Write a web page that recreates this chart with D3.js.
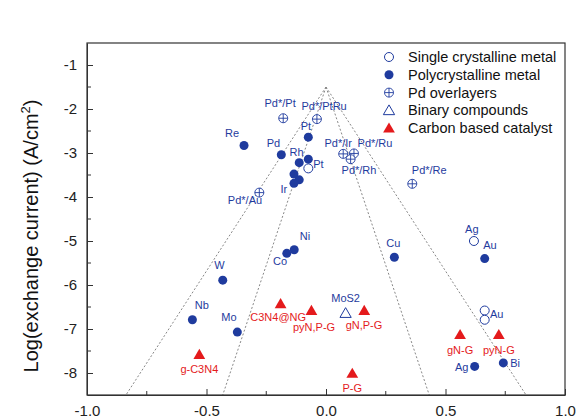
<!DOCTYPE html>
<html>
<head>
<meta charset="utf-8">
<script src="https://cdn.jsdelivr.net/npm/d3@7"></script>
<style>
  body { margin: 0; background: #fff; }
  text { font-family: "Liberation Sans", Arial, sans-serif; }
</style>
</head>
<body>
<script>
const w = 584;
const h = 420;
const margin = {top: 43, right: 19, bottom: 25, left: 87};

// data (x = ΔG-like descriptor, y = log exchange current)
const singleCrystal = [
  {x: -0.074, y: -3.35}, {x: 0.619, y: -5.00},
  {x: 0.664, y: -6.58}, {x: 0.664, y: -6.79}
];
const polyCrystal = [
  {x: -0.343, y: -2.83}, {x: -0.187, y: -3.04}, {x: -0.074, y: -2.64},
  {x: -0.112, y: -3.22}, {x: -0.074, y: -3.14}, {x: -0.134, y: -3.48},
  {x: -0.112, y: -3.61}, {x: -0.134, y: -3.69}, {x: -0.133, y: -5.20},
  {x: -0.164, y: -5.28}, {x: -0.432, y: -5.89}, {x: -0.559, y: -6.79},
  {x: -0.371, y: -7.07}, {x: 0.286, y: -5.37}, {x: 0.664, y: -5.40},
  {x: 0.622, y: -7.85}, {x: 0.742, y: -7.77}
];
const pdOverlayers = [
  {x: -0.179, y: -2.21}, {x: -0.038, y: -2.23}, {x: -0.279, y: -3.90},
  {x: 0.072, y: -3.02}, {x: 0.117, y: -3.01}, {x: 0.103, y: -3.14},
  {x: 0.361, y: -3.70}
];
const binaryCompounds = [{x: 0.082, y: -6.64}];
const carbonCatalysts = [
  {x: -0.190, y: -6.43}, {x: -0.061, y: -6.58}, {x: 0.160, y: -6.58},
  {x: -0.530, y: -7.58}, {x: 0.110, y: -8.01}, {x: 0.561, y: -7.13},
  {x: 0.723, y: -7.13}
];

const blueLabels = [
  ["Pd*/Pt", -0.192, -1.86], ["Pd*/PtRu", -0.008, -1.93], ["Re", -0.393, -2.55],
  ["Pd", -0.220, -2.78], ["Pt", -0.084, -2.38], ["Rh", -0.123, -2.97],
  ["Pt", -0.032, -3.25], ["Ir", -0.176, -3.82], ["Pd*/Au", -0.339, -4.08],
  ["Pd*/Ir", 0.051, -2.78], ["Pd*/Ru", 0.205, -2.77], ["Pd*/Rh", 0.138, -3.40],
  ["Pd*/Re", 0.432, -3.40], ["Ni", -0.088, -4.90], ["Co", -0.192, -5.45],
  ["W", -0.446, -5.54], ["Nb", -0.520, -6.45], ["Mo", -0.406, -6.73],
  ["Cu", 0.282, -5.05], ["MoS2", 0.082, -6.31], ["Ag", 0.610, -4.72],
  ["Au", 0.686, -5.10], ["Au", 0.714, -6.67], ["Ag", 0.568, -7.86],
  ["Bi", 0.791, -7.77]
];
const redLabels = [
  ["C3N4@NG", -0.200, -6.73], ["pyN,P-G", -0.050, -6.95], ["gN,P-G", 0.159, -6.92],
  ["g-C3N4", -0.530, -7.91], ["P-G", 0.110, -8.35], ["gN-G", 0.561, -7.48],
  ["pyN-G", 0.723, -7.48]
];

// volcano guide lines: apex and the x where each line meets y = -8.5
const apex = {x: 0, y: -1.5};
const guideEnds = [-0.837, -0.432, 0.432, 0.837];

const xTicks = [-1.0, -0.5, 0.0, 0.5, 1.0];
const xMinor = [-0.75, -0.25, 0.25, 0.75];
const yTicks = [-1, -2, -3, -4, -5, -6, -7, -8];
const yMinor = [-1.5, -2.5, -3.5, -4.5, -5.5, -6.5, -7.5];

const legendNames = ["Single crystalline metal", "Polycrystalline metal", "Pd overlayers",
                     "Binary compounds", "Carbon based catalyst"];

const blue = "#1f3b9e";
const red = "#e41a1c";

const xScale = d3.scaleLinear().domain([-1, 1]).range([margin.left, w - margin.right]);
const yScale = d3.scaleLinear().domain([-8.5, -0.5]).range([h - margin.bottom, margin.top]);

const svg = d3.select("body").append("svg")
  .attr("width", w)
  .attr("height", h);

svg.append("defs").append("clipPath").attr("id", "plot")
  .append("rect")
  .attr("x", margin.left).attr("y", margin.top)
  .attr("width", w - margin.left - margin.right)
  .attr("height", h - margin.top - margin.bottom);

// guide lines
svg.append("g").attr("clip-path", "url(#plot)")
  .selectAll("line")
  .data(guideEnds)
  .enter()
  .append("line")
  .attr("x1", xScale(apex.x)).attr("y1", yScale(apex.y))
  .attr("x2", d => xScale(d)).attr("y2", yScale(-8.5))
  .attr("stroke", "#888")
  .attr("stroke-width", 1)
  .attr("stroke-dasharray", "2,2");

// axes
const xAxis = d3.axisBottom(xScale).tickValues(xTicks).tickSizeInner(-6).tickSizeOuter(0)
  .tickPadding(10).tickFormat(d3.format(".1f"));
const yAxis = d3.axisLeft(yScale).tickValues(yTicks).tickSizeInner(-6).tickSizeOuter(0)
  .tickPadding(10).tickFormat(d3.format("d"));

const gx = svg.append("g")
  .attr("transform", "translate(0," + (h - margin.bottom) + ")")
  .call(xAxis);
gx.append("g").selectAll("line").data(xMinor).enter().append("line")
  .attr("x1", d => xScale(d)).attr("x2", d => xScale(d))
  .attr("y1", 0).attr("y2", -4).attr("stroke", "#333");

const gy = svg.append("g")
  .attr("transform", "translate(" + margin.left + ",0)")
  .call(yAxis);
gy.append("g").selectAll("line").data(yMinor).enter().append("line")
  .attr("y1", d => yScale(d)).attr("y2", d => yScale(d))
  .attr("x1", 0).attr("x2", 4).attr("stroke", "#333");

svg.selectAll(".tick text")
  .attr("font-size", 15)
  .attr("fill", "#222")
  .text(function() { return d3.select(this).text().replace("−", "-"); });
svg.selectAll(".tick line, .domain").attr("stroke", "#333");

// frame
svg.append("rect")
  .attr("x", margin.left).attr("y", margin.top)
  .attr("width", w - margin.left - margin.right)
  .attr("height", h - margin.top - margin.bottom)
  .attr("fill", "none")
  .attr("stroke", "#333")
  .attr("stroke-width", 1.2);

// y label
const yLabel = svg.append("text")
  .attr("transform", "translate(38," + 236 + ") rotate(-90)")
  .attr("text-anchor", "middle")
  .attr("font-size", 20)
  .attr("fill", "#111");
yLabel.append("tspan").text("Log(exchange current) (A/cm");
yLabel.append("tspan").attr("font-size", 13).attr("dy", -8).text("2");
yLabel.append("tspan").attr("dy", 8).text(")");

// marker helpers
const tri = d3.symbol().type(d3.symbolTriangle);

function openCircle(g, x, y) {
  g.append("circle").attr("cx", x).attr("cy", y).attr("r", 4.5)
    .attr("fill", "#fff").attr("stroke", blue).attr("stroke-width", 1);
}
function filledCircle(g, x, y) {
  g.append("circle").attr("cx", x).attr("cy", y).attr("r", 4.5).attr("fill", blue);
}
function crossCircle(g, x, y) {
  g.append("circle").attr("cx", x).attr("cy", y).attr("r", 4.5)
    .attr("fill", "#fff").attr("stroke", blue).attr("stroke-width", 0.9);
  g.append("path")
    .attr("d", "M" + (x - 4.5) + "," + y + "H" + (x + 4.5) + "M" + x + "," + (y - 4.5) + "V" + (y + 4.5))
    .attr("stroke", blue).attr("stroke-width", 0.9);
}
function openTriangle(g, x, y) {
  g.append("path").attr("d", tri.size(55)()).attr("transform", "translate(" + x + "," + (y + 1) + ")")
    .attr("fill", "#fff").attr("stroke", blue).attr("stroke-width", 1);
}
function redTriangle(g, x, y) {
  g.append("path").attr("d", tri.size(60)()).attr("transform", "translate(" + x + "," + (y + 1) + ")")
    .attr("fill", red);
}

const marks = svg.append("g");
singleCrystal.forEach(d => openCircle(marks, xScale(d.x), yScale(d.y)));
polyCrystal.forEach(d => filledCircle(marks, xScale(d.x), yScale(d.y)));
pdOverlayers.forEach(d => crossCircle(marks, xScale(d.x), yScale(d.y)));
binaryCompounds.forEach(d => openTriangle(marks, xScale(d.x), yScale(d.y)));
carbonCatalysts.forEach(d => redTriangle(marks, xScale(d.x), yScale(d.y)));

// point labels
function addLabels(list, color) {
  svg.append("g").selectAll("text")
    .data(list)
    .enter()
    .append("text")
    .attr("x", d => xScale(d[1]))
    .attr("y", d => yScale(d[2]))
    .attr("dy", "0.35em")
    .attr("text-anchor", "middle")
    .attr("font-size", 11)
    .attr("fill", color)
    .text(d => d[0]);
}
addLabels(blueLabels, blue);
addLabels(redLabels, red);

// legend
const legend = svg.append("g").attr("transform", "translate(389,57)");
const legendMarkers = [openCircle, filledCircle, crossCircle, openTriangle, redTriangle];
legendNames.forEach((name, i) => {
  const y = i * 17.8;
  legendMarkers[i](legend, 0, y);
  legend.append("text")
    .attr("x", 19).attr("y", y)
    .attr("dy", "0.35em")
    .attr("font-size", 14.5)
    .attr("fill", "#111")
    .text(name);
});
</script>
</body>
</html>
